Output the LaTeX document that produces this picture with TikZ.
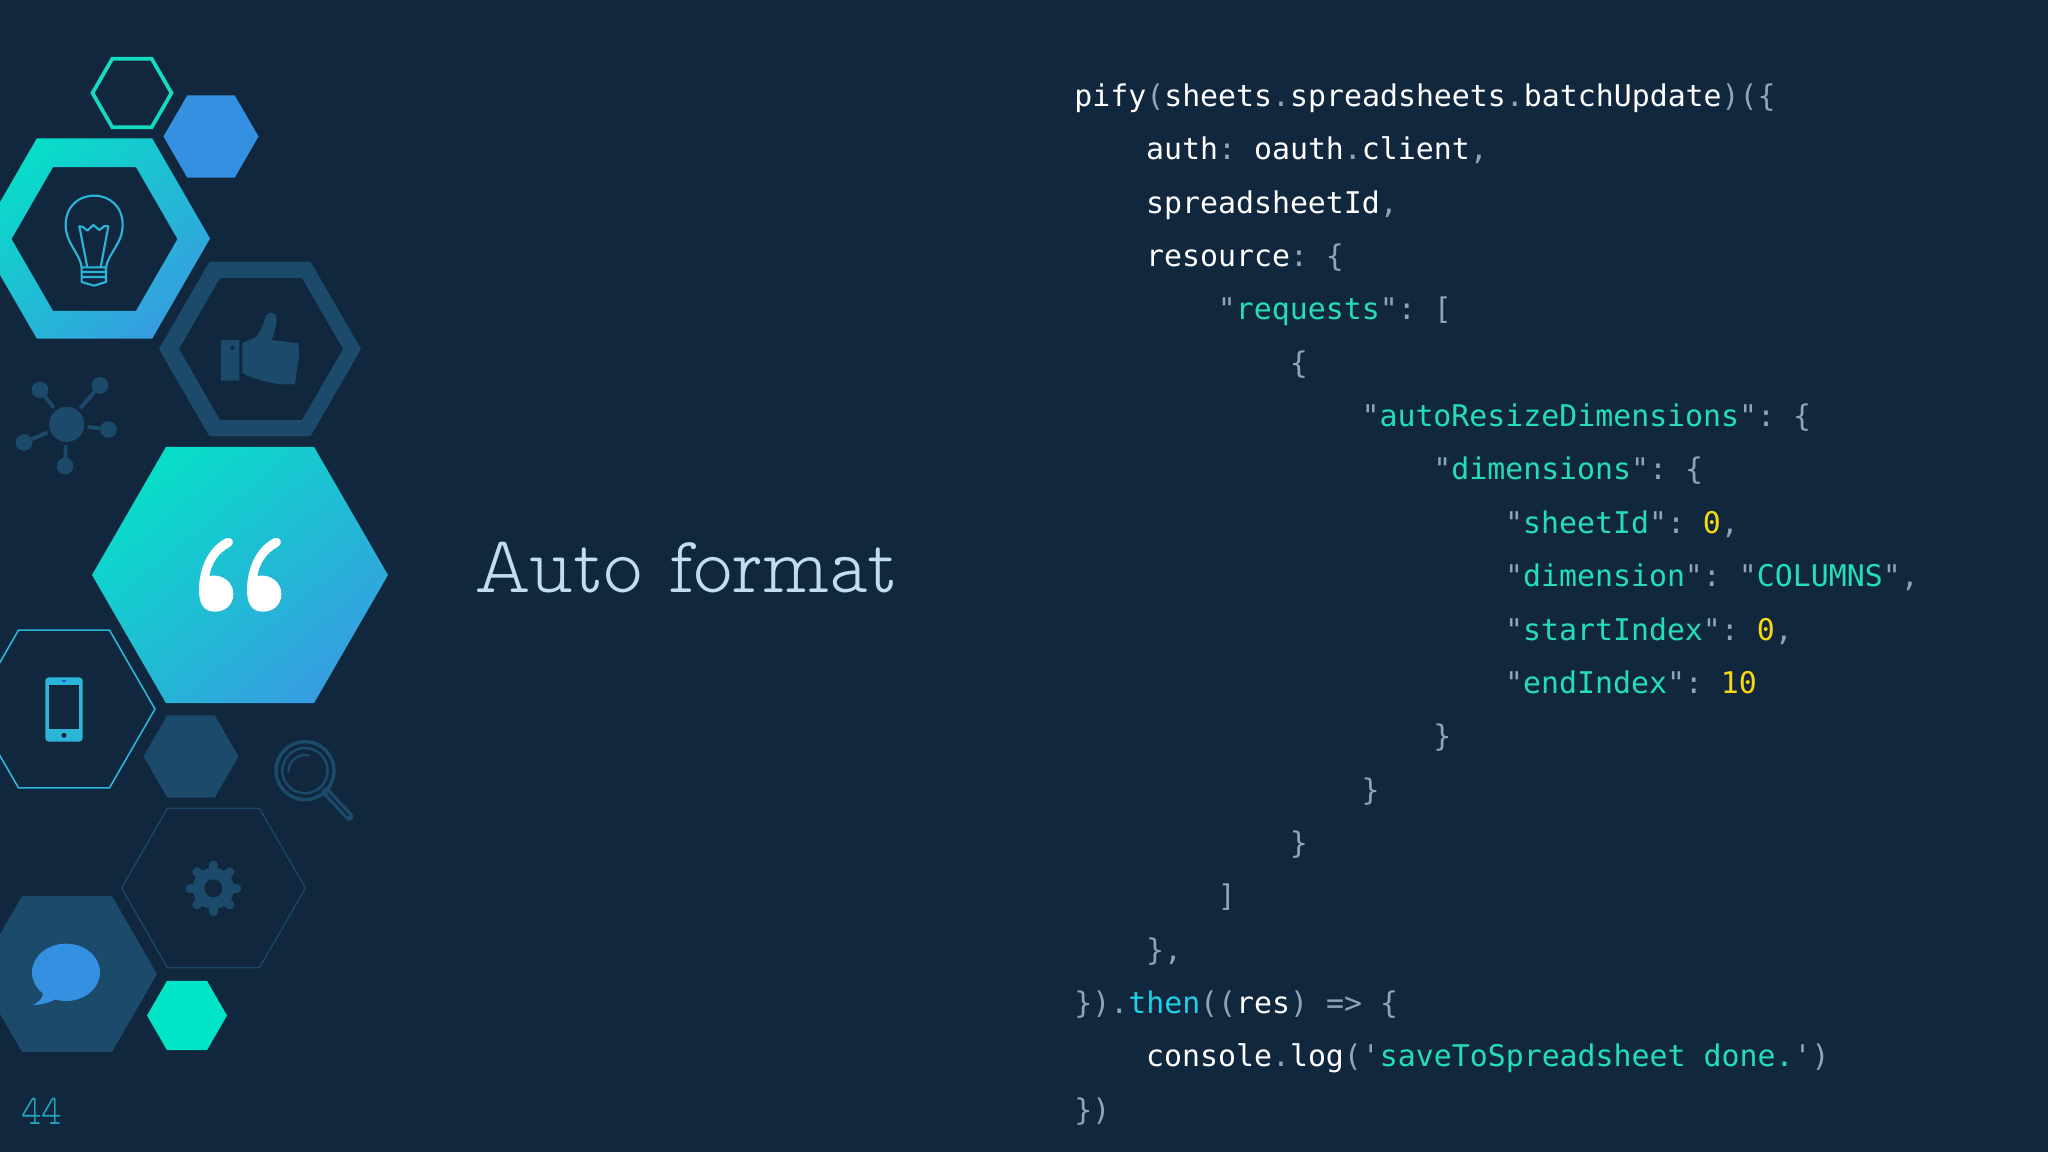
\documentclass[tikz,border=0pt]{standalone}
\usepackage{fontspec}
\newfontfamily\codefont{DejaVu Sans Mono}
\newfontfamily\titlefont[FakeStretch=.93]{Latin Modern Mono Prop Light}
\definecolor{slidebg}{HTML}{10273E}
\definecolor{darkhex}{HTML}{1B4A6B}
\definecolor{midblue}{HTML}{3490E0}
\definecolor{mint}{HTML}{00E5C8}
\definecolor{mintline}{HTML}{14DCC0}
\definecolor{cyanline}{HTML}{2BB5D8}
\definecolor{gradtop}{HTML}{08DDC8}
\definecolor{gradbot}{HTML}{369EE0}
\definecolor{punct}{HTML}{8FA3BB}
\definecolor{keygreen}{HTML}{25DDB8}
\definecolor{thencyan}{HTML}{1FD0E8}
\definecolor{numyellow}{HTML}{F6D911}
\definecolor{titleblue}{HTML}{C2DCF2}
\definecolor{pagecyan}{HTML}{1FA8BC}
\newcommand{\hexa}[3]{(#1-#3,#2) -- (#1-.5*#3,#2-.866*#3) -- (#1+.5*#3,#2-.866*#3) -- (#1+#3,#2) -- (#1+.5*#3,#2+.866*#3) -- (#1-.5*#3,#2+.866*#3) -- cycle}
\newcommand{\pun}[1]{\textcolor{punct}{#1}}
\newcommand{\key}[1]{\textcolor{keygreen}{#1}}
\newcommand{\qkey}[1]{\pun{"}\key{#1}\pun{"}}
\newcommand{\yel}[1]{\textcolor{numyellow}{#1}}
\newcommand{\codeline}[3]{\node[codeline] (line#1) at ({1074+17.95*#2},{106.5+53.35*#1}) {#3};}
\tikzset{
  codeline/.style={anchor=base west,inner sep=0pt,text=white,font=\codefont\fontsize{17}{20}\selectfont\frenchspacing},
  gradfill/.style={top color=gradtop,bottom color=gradbot,shading angle=40,even odd rule},
  iconfill/.style={fill=darkhex,draw=none},
  zoomed/.style={scale=.33333},
  satnode/.style={circle,fill=darkhex,inner sep=0pt,minimum size=9.5pt,outer sep=0pt},
}
\begin{document}
\begin{tikzpicture}[x=0.02cm,y=-0.02cm]
\useasboundingbox (0,0) rectangle (2048,1152);
\fill[slidebg] (0,0) rectangle (2048,1152);

% hexagons
\draw[mintline,line width=2.1pt] \hexa{132}{93}{39.5};
\fill[midblue] \hexa{211}{136.5}{47.5};
\shade[gradfill] \hexa{94.5}{238.5}{115.5} \hexa{94.5}{239}{83};
\fill[darkhex,even odd rule] \hexa{260}{349}{101} \hexa{261}{349}{82};
\shade[gradfill] \hexa{240}{575}{148};
\draw[cyanline,line width=.9pt] \hexa{64}{709}{91};
\fill[darkhex] \hexa{191}{756.5}{47.5};
\draw[darkhex,line width=.7pt] \hexa{213.5}{888}{92};
\fill[darkhex] \hexa{67}{974}{90};
\fill[mint] \hexa{187}{1015.5}{40};

% icons of the upper part
\begin{scope}[shift={(0,30)},zoomed]
  % bulb
  \draw[cyanline,line width=1.2pt,line join=round]
    (245,712) .. controls (240,670) and (197,640) .. (197,585)
    .. controls (197,530) and (235,497) .. (282,497)
    .. controls (330,497) and (368,530) .. (368,585)
    .. controls (368,640) and (325,670) .. (318,712);
  \draw[cyanline,line width=1.2pt,line join=round]
    (262,712) -- (238,589) -- (248,590) -- (262,602) -- (280,585) -- (298,600) -- (314,588) -- (325,589) -- (302,712);
  \draw[cyanline,line width=1.2pt,line join=round]
    (245,712) -- (318,712) -- (318,756) -- (282,767) -- (245,756) -- cycle
    (245,726) -- (318,726) (245,741) -- (318,741);
  % thumb
  \fill[darkhex,even odd rule] (663,930) rectangle (718,1052)
    (697,945) -- (705,953) -- (697,961) -- (689,953) -- cycle;
  \fill[iconfill] (727,938) -- (762,925) .. controls (785,905) and (790,880) .. (798,858)
    .. controls (805,843) and (830,845) .. (830,865)
    .. controls (830,890) and (822,910) .. (815,930)
    -- (895,940) -- (898,975) -- (892,1010) -- (885,1062)
    .. controls (840,1068) and (780,1055) .. (727,1030) -- cycle;
\end{scope}

% network
\begin{scope}[every node/.style={satnode}]
  \node[minimum size=20pt,outer sep=2pt] (hub) at (66.7,424.3) {};
  \node (satA) at (40,390) {};
  \node (satB) at (100,385.5) {};
  \node (satC) at (108.5,429.5) {};
  \node (satD) at (24,442.5) {};
  \node (satE) at (65,466) {};
\end{scope}
\foreach \sat in {satA,satB,satC,satD,satE}
  \draw[darkhex,line width=2.2pt] (hub) -- (\sat);

% icons of the middle part
\begin{scope}[shift={(0,440)},zoomed]
  % quote mark
  \foreach \dx in {0,144}
    \fill[white,shift={(\dx,0)}] (597,450) .. controls (597,385) and (625,320) .. (680,294)
      .. controls (697,288) and (707,312) .. (690,320)
      .. controls (655,338) and (635,370) .. (628,408)
      .. controls (665,400) and (700,425) .. (700,462)
      .. controls (700,495) and (675,515) .. (645,515)
      .. controls (610,515) and (597,490) .. (597,450) -- cycle;
  % phone
  \fill[cyanline,rounded corners=2pt] (136,712) rectangle (248,905);
  \fill[slidebg] (148,735) rectangle (237,868);
  \fill[midblue!60!blue] (186,720) rectangle (199,725);
  \fill[slidebg] (192,886) circle (7.5);
  % magnifier
  \draw[darkhex,line width=2pt] (915,992) circle (87);
  \draw[darkhex,line width=1.4pt] (915,992) circle (68);
  \draw[darkhex,line width=1.3pt,line cap=round] (865,995) arc (180:285:50);
  \draw[darkhex,line width=4.8pt,line cap=round] (978,1055) -- (1048,1130);
  \draw[slidebg,line width=1pt,line cap=round] (984,1061) -- (1044,1126);
\end{scope}

% icons of the lower part
\begin{scope}[shift={(0,830)},zoomed]
  % gear
  \foreach \ang in {0,45,...,315}
    \draw[darkhex,line width=5.2pt,line cap=round] (640,175) -- ++(\ang:70);
  \fill[darkhex] (640,175) circle (62);
  \fill[slidebg] (640,175) circle (27);
  % chat bubble
  \fill[midblue] (198,427) ellipse (102 and 86);
  \fill[midblue] (130,485) .. controls (130,505) and (115,518) .. (98,525)
    .. controls (125,525) and (150,518) .. (170,505) -- cycle;
\end{scope}

% texts
\node[anchor=base west,inner sep=0pt,text=titleblue,font=\titlefont\fontsize{46}{50}\selectfont] (title) at (474,592) {Auto format};
\node[anchor=base west,inner sep=0pt,text=pagecyan,font=\titlefont\fontsize{24}{26}\selectfont] (pagenum) at (21,1124) {44};

\codeline{0}{0}{pify\pun{(}sheets\pun{.}spreadsheets\pun{.}batchUpdate\pun{)(\{}}
\codeline{1}{4}{auth\pun{:} oauth\pun{.}client\pun{,}}
\codeline{2}{4}{spreadsheetId\pun{,}}
\codeline{3}{4}{resource\pun{: \{}}
\codeline{4}{8}{\qkey{requests}\pun{: [}}
\codeline{5}{12}{\pun{\{}}
\codeline{6}{16}{\qkey{autoResizeDimensions}\pun{: \{}}
\codeline{7}{20}{\qkey{dimensions}\pun{: \{}}
\codeline{8}{24}{\qkey{sheetId}\pun{:} \yel{0}\pun{,}}
\codeline{9}{24}{\qkey{dimension}\pun{:} \qkey{COLUMNS}\pun{,}}
\codeline{10}{24}{\qkey{startIndex}\pun{:} \yel{0}\pun{,}}
\codeline{11}{24}{\qkey{endIndex}\pun{:} \yel{10}}
\codeline{12}{20}{\pun{\}}}
\codeline{13}{16}{\pun{\}}}
\codeline{14}{12}{\pun{\}}}
\codeline{15}{8}{\pun{]}}
\codeline{16}{4}{\pun{\},}}
\codeline{17}{0}{\pun{\}).}\textcolor{thencyan}{then}\pun{((}res\pun{) => \{}}
\codeline{18}{4}{console\pun{.}log\pun{(}\pun{'}\key{saveToSpreadsheet done.}\pun{')}}
\codeline{19}{0}{\pun{\})}}
\end{tikzpicture}
\end{document}
